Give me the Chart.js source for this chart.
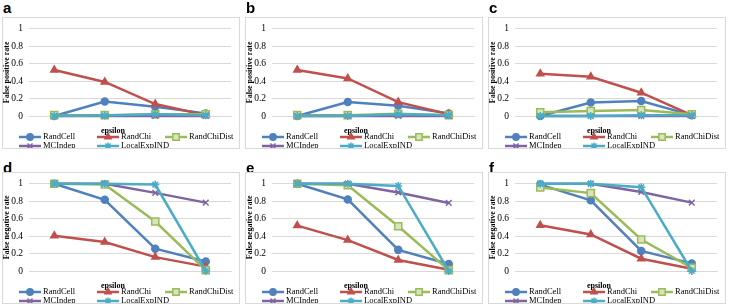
<!DOCTYPE html>
<html>
<head>
<meta charset="utf-8">
<script src="https://cdn.jsdelivr.net/npm/chart.js@4.4.1/dist/chart.umd.min.js"></script>
<style>
  html, body { margin: 0; padding: 0; background: #fff; }
  #fig { position: relative; width: 729px; height: 306px; overflow: hidden; }
  .lbl { position: absolute; font: bold 15px "Liberation Sans", Arial, sans-serif; line-height: 15px; color: #000; }
  .box { position: absolute; width: 238px; height: 132px; }
  .box canvas { position: absolute; left: 0; top: 0; outline: 1px solid #d9d9d9; outline-offset: -1px; }
</style>
</head>
<body>
<div id="fig"></div>
<script>
const epsilons = ['0.01', '0.1', '1', '10'];
const seriesNames = ['RandCell', 'RandChi', 'RandChiDist', 'MCIndep', 'LocalExpIND'];
const yTickLabels = ['0', '0.2', '0.4', '0.6', '0.8', '1'];
const panelLetters = ['a', 'b', 'c', 'd', 'e', 'f'];
const yTitles = ['False positive rate', 'False negative rate'];

// false positive rate, one row per series (RandCell, RandChi, RandChiDist, MCIndep, LocalExpIND)
const fprA = [
  [0.00, 0.165, 0.105, 0.03],
  [0.527, 0.39, 0.137, 0.01],
  [0.01, 0.01, 0.02, 0.02],
  [0.00, 0.00, 0.00, 0.00],
  [0.00, 0.005, 0.02, 0.01]
];
const fprB = [
  [0.00, 0.16, 0.118, 0.03],
  [0.527, 0.43, 0.159, 0.02],
  [0.01, 0.01, 0.025, 0.01],
  [0.00, 0.00, 0.00, 0.00],
  [0.00, 0.00, 0.02, 0.01]
];
const fprC = [
  [0.00, 0.155, 0.172, 0.01],
  [0.484, 0.45, 0.267, 0.01],
  [0.043, 0.058, 0.069, 0.02],
  [0.00, 0.00, 0.00, 0.00],
  [0.00, 0.00, 0.01, 0.01]
];

// false negative rate
const fnrD = [
  [1.00, 0.816, 0.256, 0.108],
  [0.404, 0.332, 0.159, 0.05],
  [1.00, 0.99, 0.567, 0.01],
  [1.00, 1.00, 0.895, 0.783],
  [1.00, 1.00, 0.99, 0.00]
];
const fnrE = [
  [1.00, 0.82, 0.242, 0.08],
  [0.52, 0.354, 0.126, 0.015],
  [1.00, 0.982, 0.513, 0.01],
  [1.00, 1.00, 0.90, 0.78],
  [1.00, 1.00, 0.975, 0.00]
];
const fnrF = [
  [0.99, 0.81, 0.23, 0.087],
  [0.523, 0.419, 0.141, 0.025],
  [0.957, 0.892, 0.361, 0.036],
  [1.00, 1.00, 0.906, 0.783],
  [1.00, 1.00, 0.96, 0.00]
];

const panelData = [fprA, fprB, fprC, fnrD, fnrE, fnrF];

// Excel 2007 palette
const seriesColors = ['#4f81bd', '#c0504d', '#9bbb59', '#8064a2', '#4bacc6'];
const seriesFills  = ['#4f81bd', '#c0504d', '#d7e4bd', '#8064a2', '#4bacc6'];
const seriesMarkers = ['circle', 'triangle', 'rect', 'crossRot', 'star'];
const markerRadius = [3.5, 4, 5, 4, 4];

const serif = '"Liberation Serif", "Times New Roman", serif';

// legend in Excel style: 3 columns on first row, 2 on the second
const excelLegend = {
  id: 'excelLegend',
  afterDraw(chart) {
    const ctx = chart.ctx;
    const a = chart.chartArea;
    const cols = [17, 95, 163];
    const rows = [a.bottom + 21, a.bottom + 30];
    ctx.save();
    chart.data.datasets.forEach((ds, i) => {
      const x = cols[i % 3], y = rows[Math.floor(i / 3)];
      ctx.strokeStyle = ds.borderColor;
      ctx.lineWidth = 2.5;
      ctx.beginPath();
      ctx.moveTo(x, y);
      ctx.lineTo(x + 22, y);
      ctx.stroke();
      ctx.fillStyle = ds.backgroundColor;
      ctx.lineWidth = 1.5;
      Chart.helpers.drawPoint(ctx, {
        pointStyle: ds.pointStyle, rotation: 0,
        radius: ds.pointRadius * 0.9, borderWidth: 1.5
      }, x + 11, y);
      ctx.fillStyle = '#000';
      ctx.font = '8.5px ' + serif;
      ctx.textBaseline = 'middle';
      ctx.textAlign = 'left';
      ctx.fillText(ds.label, x + 24, y);
    });
    // axis title sits just under the tick labels, left of centre
    ctx.font = 'bold 8px ' + serif;
    ctx.textAlign = 'center';
    ctx.fillText('epsilon', (a.left + a.right) / 2 - 17, a.bottom + 15);
    ctx.restore();
  }
};

function makePanel(idx) {
  const col = idx % 3, row = Math.floor(idx / 3);
  const fig = document.getElementById('fig');

  const lbl = document.createElement('div');
  lbl.className = 'lbl';
  lbl.textContent = panelLetters[idx];
  lbl.style.left = (col * 243 + 3) + 'px';
  lbl.style.top = (row === 0 ? 0 : 160) + 'px';
  fig.appendChild(lbl);

  const box = document.createElement('div');
  box.className = 'box';
  box.style.left = (col * 243 + 2) + 'px';
  box.style.top = (row === 0 ? 17 : 172) + 'px';
  const canvas = document.createElement('canvas');
  canvas.width = 238;
  canvas.height = 132;
  box.appendChild(canvas);
  fig.appendChild(box);

  const rows = panelData[idx];
  new Chart(canvas, {
    type: 'line',
    data: {
      labels: epsilons,
      datasets: seriesNames.map((name, i) => ({
        label: name,
        data: rows[i],
        borderColor: seriesColors[i],
        backgroundColor: seriesFills[i],
        pointStyle: seriesMarkers[i],
        pointRadius: markerRadius[i],
        pointBorderWidth: 1.5,
        pointBorderColor: seriesColors[i],
        pointBackgroundColor: seriesFills[i],
        borderWidth: 2.5,
        tension: 0,
        fill: false,
        clip: 10,
        order: seriesNames.length - i
      }))
    },
    options: {
      responsive: false,
      animation: false,
      devicePixelRatio: 1,
      layout: { padding: { left: 0, right: 9, top: 7, bottom: 20 } },
      plugins: { legend: { display: false }, tooltip: { enabled: false } },
      scales: {
        x: {
          offset: true,
          grid: { display: false },
          border: { color: '#d9d9d9' },
          ticks: { padding: 6, maxRotation: 0, color: '#000', font: { family: serif, size: 9.5 } },
          afterFit: s => { s.height = 13; }
        },
        y: {
          min: 0, max: 1,
          grid: { color: '#d9d9d9', drawTicks: false },
          border: { display: false },
          ticks: {
            stepSize: 0.2, padding: 6, color: '#000',
            font: { family: serif, size: 9.5 },
            callback: (v, i) => yTickLabels[i]
          },
          title: {
            display: true, text: yTitles[row], color: '#000',
            padding: 0, font: { family: serif, size: 8, weight: 'bold' }
          },
          afterFit: s => { s.width = 27; }
        }
      }
    },
    plugins: [excelLegend]
  });
}

for (let i = 0; i < 6; i++) makePanel(i);
</script>
</body>
</html>
